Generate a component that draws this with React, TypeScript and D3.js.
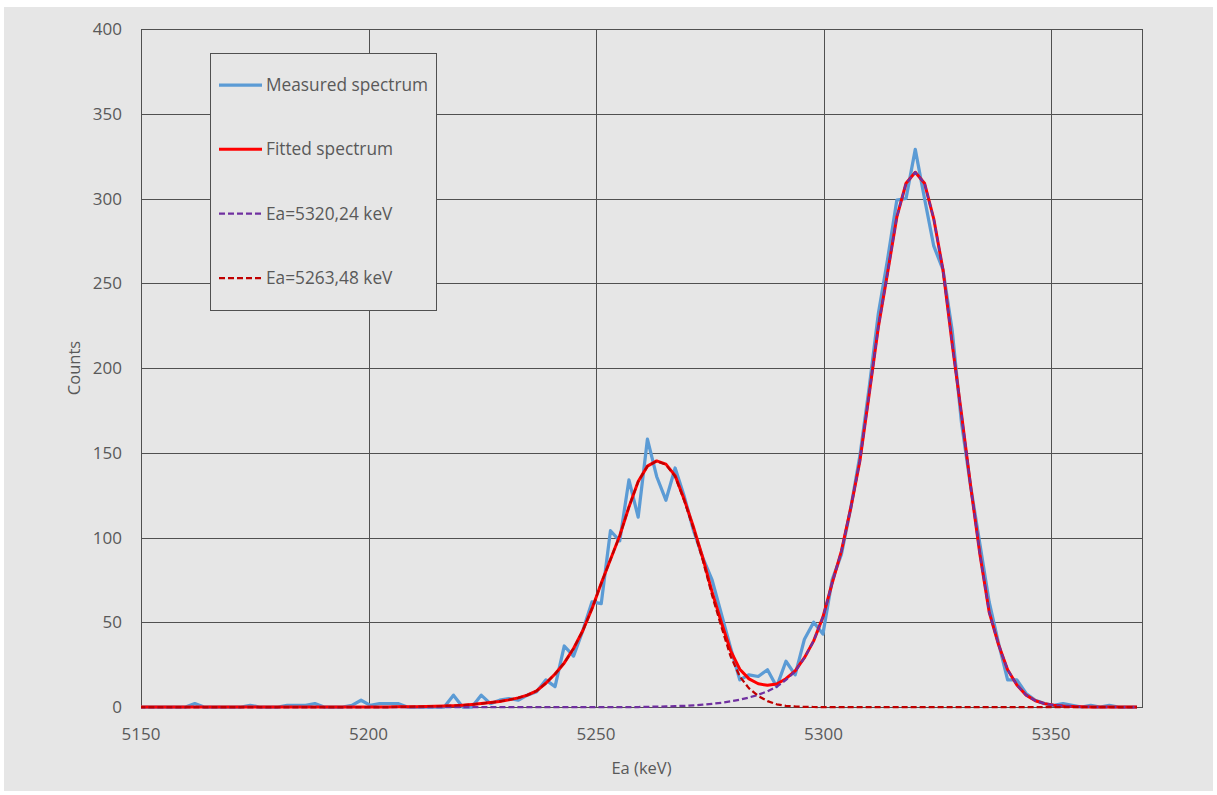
import React, { useRef, useEffect } from 'react';
import * as d3 from 'd3';

// channel energies (keV)
const energies = [
  5149.65, 5151.68, 5153.71, 5155.74, 5157.77, 5159.80, 5161.83, 5163.86, 5165.89, 5167.92,
  5169.95, 5171.98, 5174.01, 5176.04, 5178.07, 5180.10, 5182.13, 5184.16, 5186.19, 5188.22,
  5190.25, 5192.28, 5194.31, 5196.34, 5198.37, 5200.40, 5202.43, 5204.46, 5206.49, 5208.52,
  5210.55, 5212.58, 5214.61, 5216.64, 5218.67, 5220.70, 5222.73, 5224.76, 5226.79, 5228.82,
  5230.85, 5232.88, 5234.91, 5236.94, 5238.97, 5241.00, 5243.03, 5245.06, 5247.09, 5249.12,
  5251.15, 5253.18, 5255.21, 5257.24, 5259.27, 5261.30, 5263.33, 5265.36, 5267.39, 5269.42,
  5271.45, 5273.48, 5275.51, 5277.54, 5279.57, 5281.60, 5283.63, 5285.66, 5287.69, 5289.72,
  5291.75, 5293.78, 5295.81, 5297.84, 5299.87, 5301.90, 5303.93, 5305.96, 5307.99, 5310.02,
  5312.05, 5314.08, 5316.11, 5318.14, 5320.17, 5322.20, 5324.23, 5326.26, 5328.29, 5330.32,
  5332.35, 5334.38, 5336.41, 5338.44, 5340.47, 5342.50, 5344.53, 5346.56, 5348.59, 5350.62,
  5352.65, 5354.68, 5356.71, 5358.74, 5360.77, 5362.80, 5364.83, 5366.86, 5368.89
];

const measured = [
  0, 0, 0, 0, 0, 0, 2, 0, 0, 0,
  0, 0, 1, 0, 0, 0, 1, 1, 1, 2,
  0, 0, 0, 1, 4, 1, 2, 2, 2, 0,
  0, 0, 0, 0, 7, 0, 0, 7, 2, 4,
  5, 4, 7, 9, 16, 12, 36, 30, 45, 62,
  61, 104, 98, 134, 112, 158, 136, 122, 141, 124,
  104, 88, 75, 55, 35, 16, 19, 18, 22, 12,
  27, 19, 40, 50, 43, 75, 90, 117, 148, 188,
  232, 264, 299, 300, 329, 300, 272, 258, 222, 168,
  130, 96, 62, 38, 16, 16, 8, 4, 2, 1,
  2, 1, 0, 1, 0, 1, 0, 0, 0
];

const fitted = [
  0, 0, 0, 0, 0, 0, 0, 0, 0, 0,
  0, 0, 0, 0, 0, 0, 0, 0, 0, 0,
  0, 0, 0, 0, 0, 0, 0, 0, 0.1, 0.1,
  0.2, 0.3, 0.4, 0.6, 0.8, 1.1, 1.5, 2.0, 2.6, 3.3,
  4.2, 5.4, 7.0, 9.5, 14, 19.5, 26, 34.5, 45, 58,
  73, 87, 101, 118, 133, 142.1, 145.2, 143.3, 136.5, 122.2,
  106, 87.9, 67.9, 50, 33.3, 22.3, 16.6, 13.7, 12.8, 13.6,
  16.7, 21.3, 29.1, 39, 53, 73, 92, 117, 145, 184,
  224, 256, 289, 309, 315.5, 309, 288, 258, 214, 173,
  130, 90, 56, 37, 22, 13, 7, 3.7, 2, 1.1,
  0.6, 0.3, 0.1, 0, 0, 0, 0, 0, 0
];

const peak5320 = [
  0, 0, 0, 0, 0, 0, 0, 0, 0, 0,
  0, 0, 0, 0, 0, 0, 0, 0, 0, 0,
  0, 0, 0, 0, 0, 0, 0, 0, 0, 0,
  0, 0, 0, 0, 0, 0, 0, 0, 0, 0,
  0, 0, 0, 0, 0, 0, 0, 0, 0, 0,
  0, 0, 0, 0, 0, 0.1, 0.2, 0.3, 0.5, 0.7,
  1.0, 1.4, 1.9, 2.5, 3.3, 4.3, 5.6, 7.2, 9.3, 12,
  16, 21, 29, 39, 53, 73, 92, 117, 145, 184,
  224, 256, 289, 309, 315.5, 309, 288, 258, 214, 173,
  130, 90, 56, 37, 22, 13, 7, 3.7, 2, 1.1,
  0.6, 0.3, 0.1, 0, 0, 0, 0, 0, 0
];

const peak5263 = [
  0, 0, 0, 0, 0, 0, 0, 0, 0, 0,
  0, 0, 0, 0, 0, 0, 0, 0, 0, 0,
  0, 0, 0, 0, 0, 0, 0, 0, 0.1, 0.1,
  0.2, 0.3, 0.4, 0.6, 0.8, 1.1, 1.5, 2.0, 2.6, 3.3,
  4.2, 5.4, 7.0, 9.5, 14, 19.5, 26, 34.5, 45, 58,
  73, 87, 101, 118, 133, 142, 145, 143, 136, 121.5,
  105, 86.5, 66, 47.5, 30, 18, 11, 6.5, 3.5, 1.6,
  0.7, 0.3, 0.1, 0, 0, 0, 0, 0, 0, 0,
  0, 0, 0, 0, 0, 0, 0, 0, 0, 0,
  0, 0, 0, 0, 0, 0, 0, 0, 0, 0,
  0, 0, 0, 0, 0, 0, 0, 0, 0
];

const xTicks = [5150, 5200, 5250, 5300, 5350];
const yTicks = [0, 50, 100, 150, 200, 250, 300, 350, 400];

const series = [
  { name: 'Measured spectrum', values: measured, color: '#5b9bd5', width: 3.25, dash: null },
  { name: 'Fitted spectrum', values: fitted, color: '#ff0000', width: 3, dash: null },
  { name: 'Ea=5320,24 keV', values: peak5320, color: '#7030a0', width: 2.25, dash: '6,3' },
  { name: 'Ea=5263,48 keV', values: peak5263, color: '#c00000', width: 2.25, dash: '6,3' },
];

export default function App() {
  const ref = useRef(null);
  const width = 1217;
  const height = 795;
  const left = 141, right = 1142, top = 29, bottom = 707;
  const textColor = '#595959';
  const font = '"Open Sans", "Liberation Sans", sans-serif';

  useEffect(() => {
    document.body.style.margin = '0';
    const svg = d3.select(ref.current);
    svg.selectAll('*').remove();

    // background
    svg.append('rect')
      .attr('x', 4).attr('y', 7)
      .attr('width', 1209).attr('height', 784)
      .attr('fill', '#e6e6e6');

    const x = d3.scaleLinear().domain([5150, 5370]).range([left, right]);
    const y = d3.scaleLinear().domain([0, 400]).range([bottom, top]);

    svg.append('defs').append('clipPath').attr('id', 'plotClip')
      .append('rect')
      .attr('x', left).attr('y', top - 5)
      .attr('width', right - left).attr('height', bottom - top + 10);

    // grid
    const grid = svg.append('g').attr('stroke', '#505050').attr('stroke-width', 1);
    grid.selectAll('line.h')
      .data(yTicks)
      .join('line')
      .attr('x1', left).attr('x2', right)
      .attr('y1', d => Math.round(y(d)) + 0.5)
      .attr('y2', d => Math.round(y(d)) + 0.5);
    grid.selectAll('line.v')
      .data(xTicks)
      .join('line')
      .attr('class', 'v')
      .attr('x1', d => Math.round(x(d)) + 0.5)
      .attr('x2', d => Math.round(x(d)) + 0.5)
      .attr('y1', top).attr('y2', bottom);
    svg.append('rect')
      .attr('x', left + 0.5).attr('y', top + 0.5)
      .attr('width', right - left).attr('height', bottom - top)
      .attr('fill', 'none').attr('stroke', '#505050');

    // tick labels
    svg.append('g')
      .selectAll('text')
      .data(yTicks)
      .join('text')
      .attr('x', 122)
      .attr('y', d => y(d) + 6)
      .attr('text-anchor', 'end')
      .attr('fill', textColor)
      .style('font-family', font)
      .style('font-size', '17px')
      .text(d => d);

    svg.append('g')
      .selectAll('text')
      .data(xTicks)
      .join('text')
      .attr('x', d => x(d))
      .attr('y', 739.5)
      .attr('text-anchor', 'middle')
      .attr('fill', textColor)
      .style('font-family', font)
      .style('font-size', '17px')
      .text(d => d);

    // axis titles
    svg.append('text')
      .attr('x', (left + right) / 2)
      .attr('y', 774)
      .attr('text-anchor', 'middle')
      .attr('fill', textColor)
      .style('font-family', font)
      .style('font-size', '16.5px')
      .text('Ea (keV)');
    svg.append('text')
      .attr('transform', `translate(80,${(top + bottom) / 2}) rotate(-90)`)
      .attr('text-anchor', 'middle')
      .attr('fill', textColor)
      .style('font-family', font)
      .style('font-size', '16.5px')
      .text('Counts');

    // lines
    const line = d3.line()
      .x((d, i) => x(energies[i]))
      .y(d => y(d));

    const lines = svg.append('g').attr('clip-path', 'url(#plotClip)');
    series.forEach(s => {
      lines.append('path')
        .attr('d', line(s.values))
        .attr('fill', 'none')
        .attr('stroke', s.color)
        .attr('stroke-width', s.width)
        .attr('stroke-linejoin', 'round')
        .attr('stroke-dasharray', s.dash);
    });

    // legend
    const legend = svg.append('g');
    legend.append('rect')
      .attr('x', 210.5).attr('y', 53.5)
      .attr('width', 226).attr('height', 257)
      .attr('fill', '#e6e6e6')
      .attr('stroke', '#505050');
    const rowY = d3.scaleLinear().domain([0, 3]).range([85, 278]);
    const item = legend.selectAll('g')
      .data(series)
      .join('g')
      .attr('transform', (d, i) => `translate(0,${rowY(i)})`);
    item.append('line')
      .attr('x1', 219).attr('x2', 262)
      .attr('y1', 0).attr('y2', 0)
      .attr('stroke', d => d.color)
      .attr('stroke-width', d => d.width)
      .attr('stroke-dasharray', d => d.dash);
    item.append('text')
      .attr('x', 266)
      .attr('y', 6)
      .attr('fill', textColor)
      .style('font-family', font)
      .style('font-size', '17.3px')
      .text(d => d.name);
  }, []);

  return (
    <div style={{ position: 'absolute', left: 0, top: 0 }}>
      <svg ref={ref} width={width} height={height} style={{ display: 'block', background: '#ffffff' }}></svg>
    </div>
  );
}
